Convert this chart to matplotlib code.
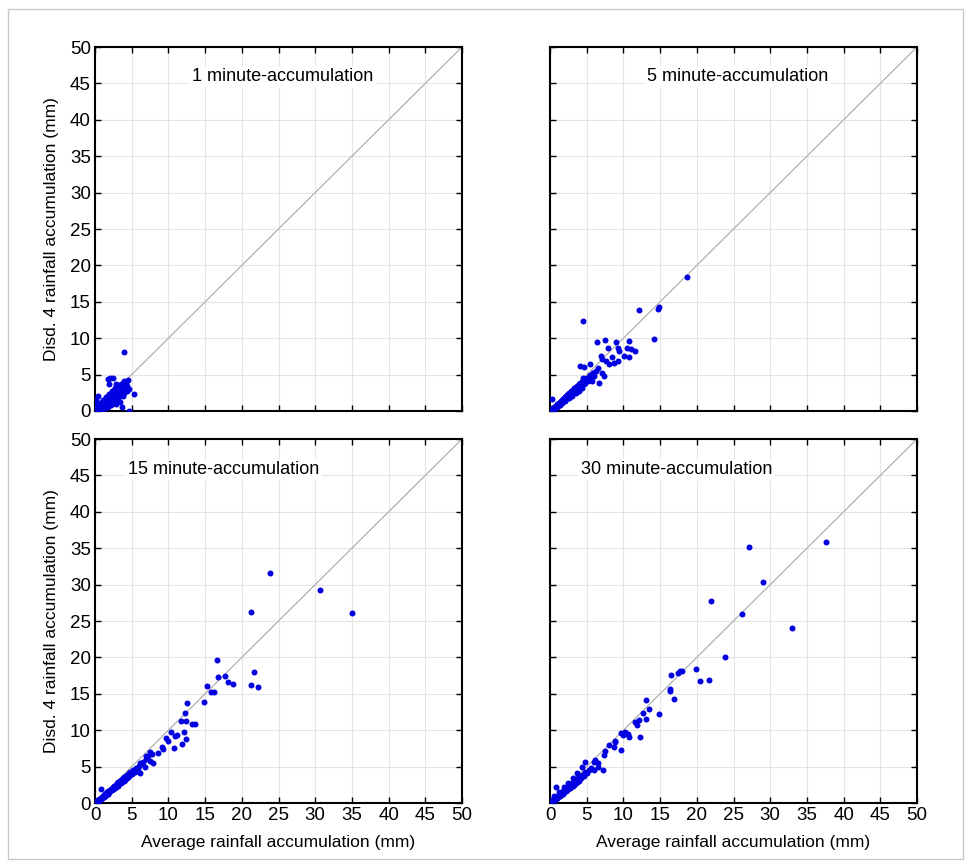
import matplotlib
matplotlib.use("Agg")
import matplotlib.pyplot as plt
from matplotlib.patches import Rectangle

plt.rcParams['font.family'] = ['Liberation Sans', 'DejaVu Sans']

titles = ["1 minute-accumulation", "5 minute-accumulation",
          "15 minute-accumulation", "30 minute-accumulation"]
ticks = [0, 5, 10, 15, 20, 25, 30, 35, 40, 45, 50]
xlabel = "Average rainfall accumulation (mm)"
ylabel = "Disd. 4 rainfall accumulation (mm)"

# ---- 1 minute ----
x1 = [0.05, 0.1, 0.15, 0.2, 0.25, 0.3, 0.35, 0.4, 0.45, 0.5, 0.55, 0.6, 0.65, 0.7, 0.75,
      0.8, 0.85, 0.9, 0.95, 1.0, 1.0, 1.1, 1.15, 1.2, 1.25, 1.3, 1.35, 1.4, 1.45, 1.5,
      1.55, 1.6, 1.65, 1.7, 1.75, 1.8, 1.85, 1.9, 1.95, 2.0, 2.05, 2.1, 2.15, 2.2, 2.25,
      2.3, 2.35, 2.4, 2.45, 2.5, 2.55, 2.6, 2.65, 2.7, 2.75, 2.8, 2.85, 2.9, 2.95, 3.0,
      3.05, 3.1, 3.15, 3.2, 3.25, 3.3, 3.35, 3.4, 3.45, 3.5, 3.55, 3.6, 3.65, 3.7, 3.75,
      3.8, 3.85, 3.9, 3.95, 4.0, 4.1, 4.2, 4.3, 4.4, 4.5, 4.6,
      4.0, 2.1, 1.8, 2.4, 2.8, 1.9, 5.3, 4.7, 0.45, 0.2, 0.1, 0.3, 0.6, 0.15]
y1 = [0.05, 0.2, 0.1, 0.3, 0.15, 0.5, 0.2, 0.4, 0.7, 0.3, 0.9, 0.5, 0.2, 0.7, 1.1,
      0.4, 0.9, 0.6, 1.3, 0.8, 0.3, 1.0, 1.5, 0.6, 1.2, 0.9, 1.7, 0.4, 1.3, 1.0,
      1.9, 0.7, 1.5, 1.2, 2.1, 0.5, 1.7, 1.4, 2.3, 1.0, 1.9, 1.6, 2.5, 0.8, 2.0,
      1.3, 2.7, 1.8, 2.2, 1.1, 2.9, 2.0, 1.5, 2.4, 3.1, 1.9, 2.6, 0.9, 2.2, 3.0,
      2.5, 1.7, 3.3, 2.8, 2.1, 3.5, 2.6, 1.3, 3.0, 2.3, 3.7, 2.8, 0.6, 3.3, 2.0,
      3.9, 2.9, 3.5, 2.5, 4.1, 3.2, 3.8, 2.8, 3.5, 4.2, 3.0,
      8.1, 4.6, 4.35, 4.6, 3.7, 3.75, 2.4, 0.0, 2.0, 1.5, 1.0, 0.0, 0.05, 0.6]

# ---- 5 minute ----
x2 = [0.05, 0.1, 0.15, 0.2, 0.25, 0.3, 0.35, 0.4, 0.45, 0.5, 0.55, 0.6, 0.65, 0.7, 0.75,
      0.8, 0.85, 0.9, 0.95, 1.0, 1.05, 1.1, 1.15, 1.2, 1.3, 1.35, 1.4, 1.5, 1.55, 1.6,
      1.7, 1.75, 1.8, 1.9, 1.95, 2.0, 2.1, 2.2, 2.25, 2.3, 2.4, 2.5, 2.55, 2.6, 2.7,
      2.8, 2.85, 2.9, 3.0, 3.1, 3.2, 3.3, 3.4, 3.5, 3.6, 3.7, 3.8, 3.9, 4.0, 4.1,
      4.2, 4.3, 4.4, 4.5, 4.6, 4.7, 4.8, 5.0, 5.2, 5.4, 5.6, 5.8, 6.0, 6.2,
      0.5, 0.9, 1.3, 1.7, 2.1, 2.6, 3.0, 3.5, 3.9, 4.3,
      18.6, 12.1, 14.7, 14.9, 4.5, 14.2, 6.4, 7.5, 9.0, 10.7, 7.9, 9.2, 9.4, 10.5,
      11.0, 11.6, 10.1, 10.8, 6.95, 7.1, 8.4, 8.0, 8.7, 9.2, 4.1, 4.7, 5.45, 7.1,
      7.3, 6.7, 5.75, 4.55, 5.35, 5.9, 0.3, 6.6, 7.6]
y2 = [0.0, 0.1, 0.05, 0.2, 0.1, 0.3, 0.2, 0.35, 0.25, 0.45, 0.3, 0.55, 0.4, 0.6, 0.5,
      0.75, 0.6, 0.8, 0.65, 0.95, 0.75, 1.0, 0.85, 1.1, 0.95, 1.25, 1.05, 1.4, 1.15, 1.5,
      1.3, 1.65, 1.4, 1.8, 1.5, 1.9, 1.6, 2.1, 1.75, 2.2, 1.85, 2.35, 2.0, 2.5, 2.1,
      2.65, 2.25, 2.8, 2.4, 2.95, 2.55, 3.1, 2.7, 3.35, 2.9, 3.5, 3.0, 3.7, 3.2, 3.85,
      3.4, 4.0, 3.55, 4.2, 3.7, 4.3, 3.9, 4.6, 4.1, 4.9, 4.5, 5.2, 4.8, 5.5,
      0.2, 0.5, 0.8, 1.1, 1.4, 1.8, 2.1, 2.5, 2.8, 3.1,
      18.4, 13.9, 14.05, 14.3, 12.4, 9.9, 9.5, 9.8, 9.5, 9.6, 8.65, 8.65, 8.2, 8.6,
      8.5, 8.3, 7.5, 7.45, 7.55, 7.1, 7.4, 6.4, 6.6, 6.9, 6.2, 6.1, 6.45, 5.2,
      4.85, 3.8, 4.1, 4.5, 4.7, 5.2, 1.6, 5.9, 6.8]

# ---- 15 minute ----
x3 = [0.05, 0.1, 0.15, 0.2, 0.25, 0.3, 0.35, 0.4, 0.5, 0.55, 0.6, 0.7, 0.75, 0.8, 0.9,
      0.95, 1.0, 1.1, 1.15, 1.2, 1.3, 1.4, 1.45, 1.5, 1.6, 1.7, 1.75, 1.8, 1.9, 2.0,
      2.1, 2.2, 2.3, 2.4, 2.5, 2.6, 2.7, 2.8, 2.9, 3.0, 3.1, 3.2, 3.3, 3.4, 3.5,
      3.6, 3.7, 3.8, 3.9, 4.0, 4.1, 4.2, 4.3, 4.4, 4.5, 4.6, 4.7, 4.8, 5.0, 5.2,
      5.4, 5.6, 5.8, 6.0, 6.3, 6.6, 6.9, 7.2,
      0.6, 1.2, 1.8, 2.4, 3.0, 3.6, 4.2, 4.9, 5.5,
      23.9, 30.6, 35.05, 21.2, 16.6, 16.75, 17.7, 18.1, 18.85, 21.6, 21.25, 22.2,
      15.2, 15.8, 16.2, 14.9, 12.6, 12.2, 11.7, 12.35, 13.2, 13.6, 12.1, 12.4, 11.9,
      10.3, 10.7, 10.9, 11.2, 9.7, 9.9, 9.1, 9.3, 8.6, 7.9, 7.5, 6.8, 6.1, 6.1,
      7.0, 7.5, 7.8, 0.8]
y3 = [0.05, 0.15, 0.1, 0.25, 0.15, 0.3, 0.2, 0.4, 0.35, 0.5, 0.4, 0.6, 0.5, 0.75, 0.65,
      0.85, 0.75, 0.95, 0.8, 1.1, 0.95, 1.25, 1.05, 1.35, 1.2, 1.5, 1.3, 1.6, 1.45, 1.8,
      1.6, 1.95, 1.75, 2.15, 1.9, 2.3, 2.05, 2.5, 2.2, 2.7, 2.4, 2.9, 2.55, 3.05, 2.7,
      3.2, 2.9, 3.4, 3.05, 3.6, 3.2, 3.75, 3.4, 3.9, 3.55, 4.1, 3.7, 4.25, 4.0, 4.5,
      4.3, 4.8, 4.6, 5.1, 5.3, 5.7, 6.0, 6.4,
      0.3, 0.8, 1.3, 1.9, 2.4, 3.0, 3.5, 4.1, 4.6,
      31.55, 29.2, 26.1, 26.3, 19.6, 17.35, 17.5, 16.6, 16.35, 17.99, 16.25, 16.0,
      16.1, 15.2, 15.2, 13.9, 13.7, 12.4, 11.2, 11.25, 10.85, 10.85, 9.8, 8.85, 8.15,
      9.7, 7.6, 9.25, 9.3, 8.95, 8.5, 7.7, 7.4, 6.8, 5.45, 5.8, 4.95, 5.45, 4.1,
      6.5, 7.0, 6.7, 1.9]

# ---- 30 minute ----
x4 = [0.05, 0.1, 0.15, 0.2, 0.25, 0.3, 0.35, 0.4, 0.5, 0.55, 0.6, 0.7, 0.75, 0.8, 0.9,
      0.95, 1.0, 1.1, 1.15, 1.2, 1.3, 1.4, 1.45, 1.5, 1.6, 1.7, 1.75, 1.8, 1.9, 2.0,
      2.1, 2.2, 2.3, 2.4, 2.5, 2.6, 2.7, 2.8, 2.9, 3.0, 3.1, 3.2, 3.3, 3.4, 3.5,
      3.6, 3.7, 3.8, 3.9, 4.0, 4.2, 4.4, 4.6, 4.8, 5.0, 5.3, 5.6,
      0.6, 1.2, 1.9, 2.5, 3.1, 3.7, 4.4, 2.2, 3.3,
      37.6, 27.1, 29.0, 21.9, 26.2, 33.0, 23.9, 19.85, 20.4, 21.7, 16.5, 17.5, 17.7,
      18.0, 16.35, 16.4, 16.85, 13.1, 12.7, 13.5, 13.1, 14.85, 11.6, 12.1, 11.9, 12.2,
      9.7, 10.2, 10.6, 10.7, 9.9, 8.8, 8.9, 8.0, 8.7, 9.7, 7.5, 7.3, 7.2, 6.6, 6.6,
      5.95, 6.1, 4.8, 0.8, 5.95]
y4 = [0.05, 0.15, 0.1, 0.25, 0.15, 0.3, 0.2, 0.4, 0.35, 0.5, 0.4, 0.6, 0.5, 0.75, 0.65,
      0.85, 0.75, 0.95, 0.8, 1.1, 0.95, 1.25, 1.05, 1.4, 1.2, 1.55, 1.3, 1.7, 1.45, 1.85,
      1.6, 2.0, 1.75, 2.2, 1.9, 2.35, 2.05, 2.55, 2.2, 2.7, 2.4, 2.9, 2.55, 3.05, 2.7,
      3.2, 2.9, 3.4, 3.05, 3.6, 3.5, 3.9, 3.7, 4.2, 4.1, 4.5, 4.8,
      0.9, 1.5, 2.2, 2.8, 3.5, 4.1, 4.9, 1.6, 2.5,
      35.8, 35.2, 30.4, 27.8, 25.9, 24.1, 20.1, 18.35, 16.7, 16.9, 17.6, 17.9, 18.1,
      18.1, 15.7, 15.4, 14.3, 14.2, 12.4, 12.9, 11.5, 12.2, 11.1, 11.35, 10.7, 9.0,
      9.65, 9.75, 9.5, 9.1, 9.3, 8.5, 8.35, 7.9, 7.7, 7.3, 7.1, 6.6, 4.6, 5.5, 4.9,
      5.7, 5.9, 5.6, 2.2, 4.5]

xs = [x1, x2, x3, x4]
ys = [y1, y2, y3, y4]
title_pos = [(0.51, 0.918), (0.51, 0.918), (0.35, 0.915), (0.345, 0.915)]

W, H = 972, 867
fig = plt.figure(figsize=(W / 100, H / 100), dpi=100)
fig.patches.append(Rectangle((8 / W, 8 / H), 1 - 17 / W, 1 - 17 / H,
                             transform=fig.transFigure, fill=False,
                             edgecolor='#c8c8c8', linewidth=1.0))

lefts = [95, 550, 95, 550]
tops = [47, 47, 439, 439]
aw, ah = 367, 364
for i in range(4):
    ax = fig.add_axes([lefts[i] / W, 1 - (tops[i] + ah) / H, aw / W, ah / H])
    ax.set_xlim(0, 50)
    ax.set_ylim(0, 50)
    ax.set_xticks(ticks)
    ax.set_yticks(ticks)
    ax.grid(True, color='#e4e4e4', linewidth=0.8)
    ax.set_axisbelow(True)
    ax.plot([0, 50], [0, 50], color='#a8a8a8', linewidth=0.8, zorder=2)
    ax.plot(xs[i], ys[i], linestyle='none', marker='o', markersize=4.3,
            color='#0000e0', markeredgewidth=0, zorder=3)
    ax.tick_params(direction='in', top=True, right=True, length=4, width=1,
                   labelsize=13.5, pad=3)
    for s in ax.spines.values():
        s.set_linewidth(1.5)
    if i < 2:
        ax.tick_params(labelbottom=False)
    else:
        ax.set_xlabel(xlabel, fontsize=12.5, labelpad=8)
    if i % 2 == 1:
        ax.tick_params(labelleft=False)
    else:
        ax.set_ylabel(ylabel, fontsize=12.5, labelpad=8)
    ax.text(title_pos[i][0], title_pos[i][1], titles[i], transform=ax.transAxes,
            ha='center', va='center', fontsize=13, zorder=4,
            bbox=dict(facecolor='white', edgecolor='none', pad=2))

fig.savefig("out.png", dpi=100)
